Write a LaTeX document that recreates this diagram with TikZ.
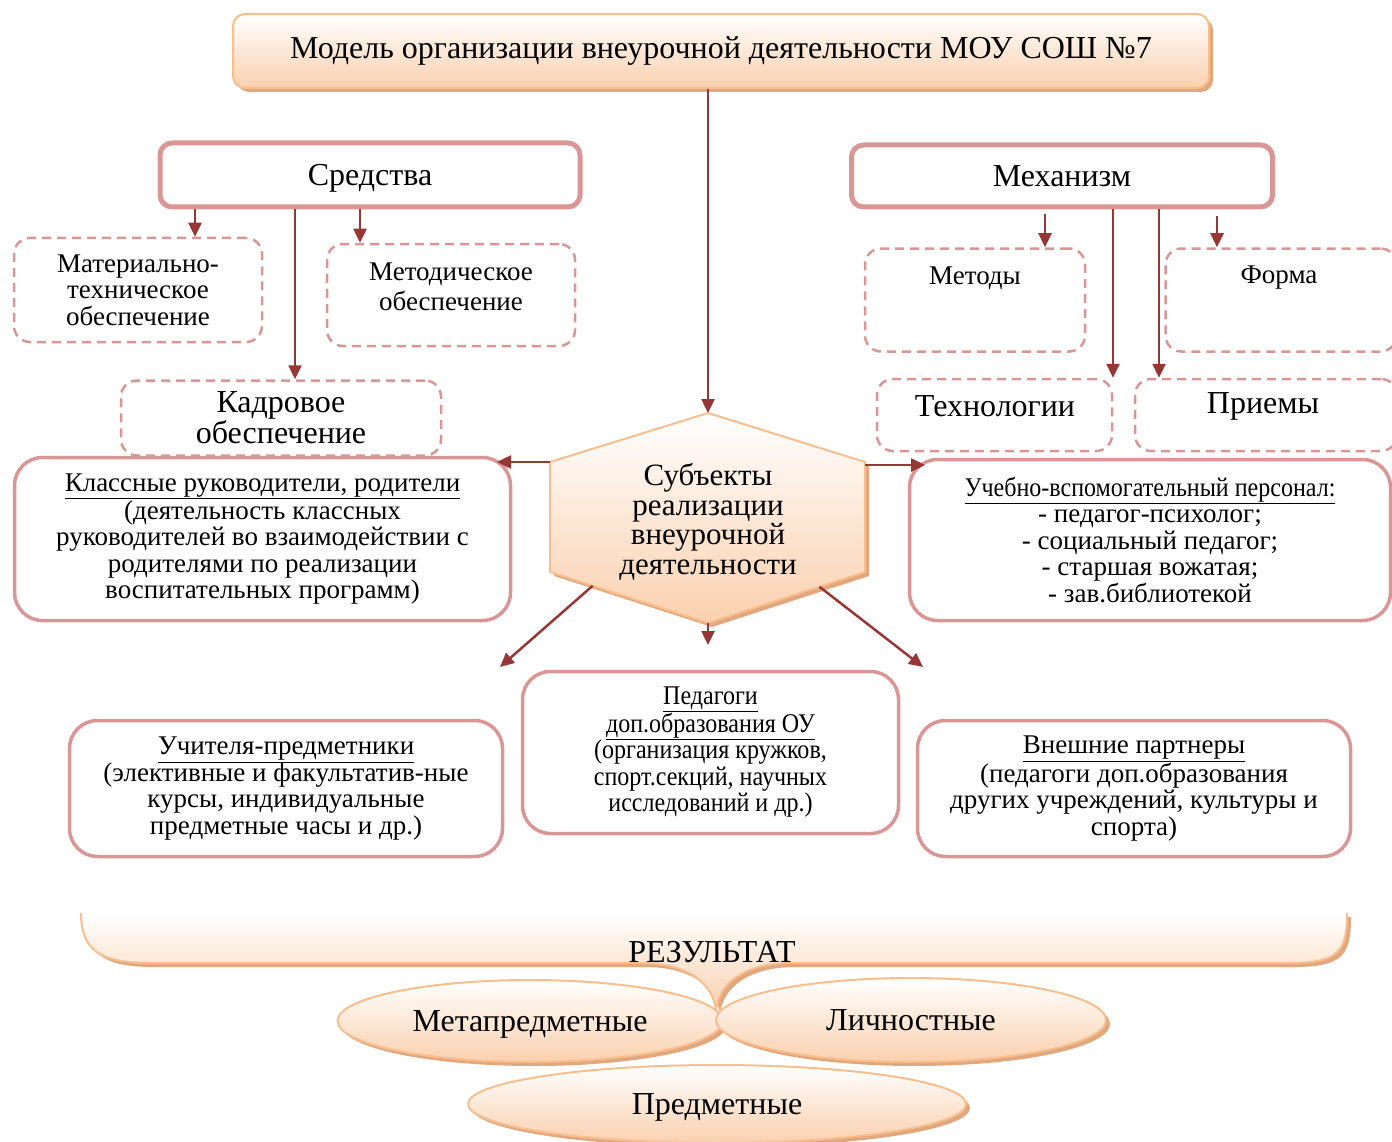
\documentclass[tikz,border=0pt]{standalone}
\usepackage{fontspec}
\setmainfont{Liberation Serif}
\newfontfamily\narrowserif{Liberation Serif}[FakeStretch=0.89]
\usetikzlibrary{arrows.meta,shadows,shapes.geometric,calc}

\definecolor{rosy}{HTML}{D99694}
\definecolor{darkred}{HTML}{953735}
\definecolor{peach}{HTML}{FAD0AE}
\definecolor{peachline}{HTML}{F9BE8E}
\definecolor{peachshadow}{HTML}{E2A77C}

\tikzset{
  box/.style={draw=rosy, line width=5pt, rounded corners=12pt, fill=white},
  wbox/.style={draw=rosy, line width=3.5pt, rounded corners=28pt, fill=white, align=center,
    font=\fontsize{27}{26.5}\selectfont},
  dbox/.style={draw=rosy, line width=2.5pt, dash pattern=on 9pt off 6pt, rounded corners=16pt,
    align=center},
  arr/.style={draw=darkred, line width=2.5pt, -{Triangle[length=14pt,width=13pt]}},
  peachy/.style={draw=peachline, line width=2pt, top color=white, bottom color=peach,
    drop shadow={shadow xshift=4pt, shadow yshift=-4pt, fill=peachshadow, opacity=1}},
  big/.style={font=\fontsize{32}{30}\selectfont},
  small/.style={font=\fontsize{27}{26.5}\selectfont, align=center},
}

\begin{document}
\begin{tikzpicture}[x=1pt,y=-1pt]
    \useasboundingbox (0,0) rectangle (1392,1142);
    % title
    \node[peachy, rounded corners=12pt, minimum width=976pt, minimum height=74pt,
      font=\fontsize{32}{34}\selectfont] (title) at (721,51)
      {Модель организации внеурочной деятельности МОУ СОШ №7};
    % means and mechanism
    \node[box, big, text depth=0pt, minimum width=420pt, minimum height=64pt] (sredstva) at (370,175) {Средства};
    \node[box, big, minimum width=421pt, minimum height=62pt] (mekh) at (1062,176) {Механизм};
    % dashed boxes, left
    \node[dbox, small, minimum width=248pt, minimum height=104pt] (mat) at (138,290)
      {Материально-\\техническое\\обеспечение};
    \node[dbox, minimum width=248pt, minimum height=102pt] (metod) at (451,295) {};
    \node[small, font=\fontsize{27}{30}\selectfont] (metodtxt) at (451,287) {Методическое\\обеспечение};
    \node[dbox, minimum width=320pt, minimum height=75pt, font=\fontsize{32}{27}\selectfont] (kadr) at (281,418)
      {Кадровое\\обеспечение};
    % dashed boxes, right
    \node[dbox, minimum width=220pt, minimum height=103pt] (metody) at (975,300) {};
    \node[small] (metodytxt) at (975,278) {Методы};
    \node[dbox, minimum width=231pt, minimum height=103pt] (forma) at (1281,300) {};
    \node[small] (formatxt) at (1279,278) {Форма};
    \node[dbox, minimum width=235pt, minimum height=72pt] (tehn) at (994.5,415) {};
    \node[big] (tehntxt) at (995,406) {Технологии};
    \node[dbox, minimum width=262pt, minimum height=72pt] (priemy) at (1266,415) {};
    \node[big] (priemytxt) at (1263,406) {Приемы};
    % hexagon
    \coordinate (ht) at (708,413);
    \coordinate (hur) at (865,462);
    \coordinate (hlr) at (865,572);
    \coordinate (hb) at (708,623);
    \coordinate (hll) at (550,572);
    \coordinate (hul) at (550,462);
    \draw[peachy] (ht) -- (hur) -- (hlr) -- (hb) -- (hll) -- (hul) -- cycle;
    \node[align=center, font=\fontsize{31}{29.5}\selectfont] (subj) at (708,522)
      {Субъекты\\реализации\\внеурочной\\деятельности};
    % subjects
    \node[wbox, minimum width=496pt, minimum height=163pt] (klass) at (262.5,539)
      {\underline{Классные руководители, родители}\\(деятельность классных\\руководителей во взаимодействии с\\родителями по реализации\\воспитательных программ)};
    \node[wbox, minimum width=481pt, minimum height=161pt] (ucheb) at (1150,540)
      {{\narrowserif\underline{Учебно-вспомогательный персонал:}}\\- педагог-психолог;\\- социальный педагог;\\- старшая вожатая;\\- зав.библиотекой};
    \node[wbox, minimum width=433pt, minimum height=136pt] (uchit) at (286,788.5)
      {\underline{Учителя-предметники}\\(элективные и факультатив-ные\\курсы, индивидуальные\\предметные часы и др.)};
    \node[wbox, minimum width=376pt, minimum height=162pt, font=\narrowserif\fontsize{27}{26.5}\selectfont] (pedag) at (710.5,752.5)
      {\underline{Педагоги}\\\underline{доп.образования ОУ}\\(организация кружков,\\спорт.секций, научных\\исследований и др.)};
    \node[wbox, minimum width=433pt, minimum height=136pt] (vnesh) at (1134,788.5)
      {\underline{Внешние партнеры}\\(педагоги доп.образования\\других учреждений, культуры и\\спорта)};
    % arrows
    \coordinate (tipW) at (497,462);
    \coordinate (tipE) at (925,465);
    \coordinate (tipL) at (500,667);
    \coordinate (tipD) at (708,645);
    \coordinate (tipR) at (923,667);
    \draw[arr] (ht |- title.south) -- (ht);
    \draw[arr] (sredstva.south -| 195,0) -- (mat.north -| 195,0);
    \draw[arr] (sredstva.south -| 295,0) -- (kadr.north -| 295,0);
    \draw[arr] (sredstva.south -| 360,0) -- (metod.north -| 360,0);
    \draw[arr] ([yshift=-5pt]mekh.south -| 1045,0) -- (metody.north -| 1045,0);
    \draw[arr] (mekh.south -| 1113,0) -- (tehn.north -| 1113,0);
    \draw[arr] (mekh.south -| 1159,0) -- (priemy.north -| 1159,0);
    \draw[arr] ([yshift=-7pt]mekh.south -| 1217,0) -- (forma.north -| 1217,0);
    \draw[arr] (hul) -- (tipW);
    \draw[arr] (hur |- tipE) -- (tipE);
    \draw[arr] ($(hll)!0.27!(hb)$) -- (tipL);
    \draw[arr] (hb) -- (tipD);
    \draw[arr] ($(hb)!0.71!(hlr)$) -- (tipR);
    % result
    \fill[top color=white, bottom color=peach,
      drop shadow={shadow xshift=4pt, shadow yshift=-4pt, fill=peachshadow, opacity=1}]
      (81,913) .. controls (81,950) and (100,963) .. (150,963) -- (640,963)
      .. controls (690,963) and (713,985) .. (716,1010)
      .. controls (719,985) and (742,963) .. (792,963) -- (1290,963)
      .. controls (1340,963) and (1347,950) .. (1347,913) -- cycle;
    \draw[peachline, line width=2pt]
      (81,913) .. controls (81,950) and (100,963) .. (150,963) -- (640,963)
      .. controls (690,963) and (713,985) .. (716,1010)
      .. controls (719,985) and (742,963) .. (792,963) -- (1290,963)
      .. controls (1340,963) and (1347,950) .. (1347,913);
    \node[big] (rez) at (712,952) {РЕЗУЛЬТАТ};
    \node[peachy, ellipse, big, text depth=0pt, minimum width=498pt, minimum height=78pt] (predm) at (717,1104) {Предметные};
    \node[peachy, ellipse, big, text depth=0pt, minimum width=385pt, minimum height=82pt] (meta) at (530,1021) {Метапредметные};
    \node[peachy, ellipse, big, minimum width=390pt, minimum height=84pt] (lichn) at (911,1020) {Личностные};
\end{tikzpicture}
\end{document}
